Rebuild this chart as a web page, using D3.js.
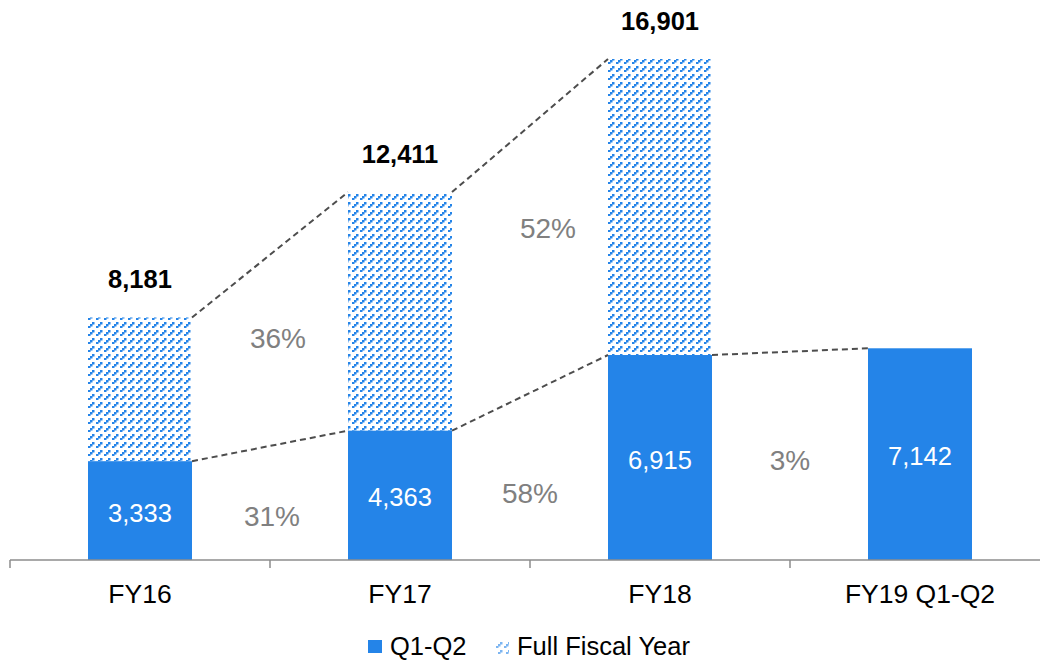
<!DOCTYPE html>
<html>
<head>
<meta charset="utf-8">
<script src="https://cdn.jsdelivr.net/npm/d3@7"></script>
<style>
  body { margin: 0; background: #fff; }
  svg text { font-family: "Liberation Sans", Arial, sans-serif; }
</style>
</head>
<body>
<svg id="chart" width="1040" height="660"></svg>
<script>
const categories = ["FY16", "FY17", "FY18", "FY19 Q1-Q2"];
const halfYear = [3333, 4363, 6915, 7142];          // Q1-Q2
const fullYear = [8181, 12411, 16901, null];        // Full Fiscal Year
const halfGrowth = ["31%", "58%", "3%"];            // Q1-Q2 growth between bars
const fullGrowth = ["36%", "52%"];                  // Full-year growth between bars
const legendLabels = ["Q1-Q2", "Full Fiscal Year"];

const blue = "#2484E8";
const svg = d3.select("#chart");

const defs = svg.append("defs");
const pat = defs.append("pattern")
  .attr("id", "hatch").attr("patternUnits", "userSpaceOnUse")
  .attr("width", 8).attr("height", 8);
[[0, 6], [2, 4], [4, 2]].forEach(([px, py]) => {
  pat.append("rect").attr("x", px).attr("y", py).attr("width", 2.5).attr("height", 2.5).attr("fill", blue);
});

const x = d3.scaleBand().domain(categories).range([10, 1050]).paddingInner(0.6).paddingOuter(0.3);
const y = d3.scaleLinear().domain([0, 19000]).range([560, 560 - 19000 * 501 / 16901]);
const fmt = d3.format(",");

const data = categories.map((c, i) => ({ c, h: halfYear[i], f: fullYear[i] }));

// hatched full year bars
svg.append("g").selectAll("rect").data(data.filter(d => d.f != null)).join("rect")
  .attr("x", d => x(d.c)).attr("width", x.bandwidth())
  .attr("y", d => y(d.f)).attr("height", d => y(d.h) - y(d.f))
  .attr("fill", "url(#hatch)");

// solid half-year bars
svg.append("g").selectAll("rect").data(data).join("rect")
  .attr("x", d => x(d.c)).attr("width", x.bandwidth())
  .attr("y", d => y(d.h)).attr("height", d => y(0) - y(d.h))
  .attr("fill", blue);

// dashed connectors
const lineG = svg.append("g").attr("stroke", "#4d4d4d").attr("stroke-width", 2)
  .attr("stroke-dasharray", "6 4").attr("fill", "none");
for (let i = 0; i < data.length - 1; i++) {
  const a = data[i], b = data[i + 1];
  lineG.append("line")
    .attr("x1", x(a.c) + x.bandwidth()).attr("y1", y(a.h))
    .attr("x2", x(b.c)).attr("y2", y(b.h));
  if (a.f != null && b.f != null) {
    lineG.append("line")
      .attr("x1", x(a.c) + x.bandwidth()).attr("y1", y(a.f))
      .attr("x2", x(b.c)).attr("y2", y(b.f));
  }
}

// axis
const axisG = svg.append("g").attr("stroke", "#8c8c8c").attr("stroke-width", 1.5);
axisG.append("line").attr("x1", 10).attr("x2", 1040).attr("y1", y(0)).attr("y2", y(0));
categories.forEach(c => {
  const tx = x(c) - x.step() * 0.3;
  axisG.append("line").attr("x1", tx).attr("x2", tx).attr("y1", y(0)).attr("y2", y(0) + 8);
});
svg.append("g").selectAll("text").data(categories).join("text")
  .attr("x", d => x(d) + x.bandwidth() / 2).attr("y", 603)
  .attr("text-anchor", "middle").attr("font-size", 26.5).attr("fill", "#000")
  .text(d => d);

// value labels
svg.append("g").selectAll("text").data(data).join("text")
  .attr("x", d => x(d.c) + x.bandwidth() / 2)
  .attr("y", d => (y(d.h) + y(0)) / 2 + 11)
  .attr("text-anchor", "middle").attr("font-size", 25.5).attr("fill", "#fff")
  .text(d => fmt(d.h));
svg.append("g").selectAll("text").data(data.filter(d => d.f != null)).join("text")
  .attr("x", d => x(d.c) + x.bandwidth() / 2)
  .attr("y", d => y(d.f) - 29)
  .attr("text-anchor", "middle").attr("font-size", 25.5).attr("font-weight", "bold").attr("fill", "#000")
  .text(d => fmt(d.f));

// growth annotations
const fullPos = [[278, 338], [548, 228]];
const halfPos = [[272, 516], [530, 493], [790, 460]];
const gG = svg.append("g").attr("font-size", 28).attr("fill", "#808080").attr("text-anchor", "middle");
fullGrowth.forEach((t, i) => gG.append("text").attr("x", fullPos[i][0]).attr("y", fullPos[i][1] + 10).text(t));
halfGrowth.forEach((t, i) => gG.append("text").attr("x", halfPos[i][0]).attr("y", halfPos[i][1] + 10).text(t));

// legend
const lg = svg.append("g");
lg.append("rect").attr("x", 368).attr("y", 640).attr("width", 14).attr("height", 13).attr("fill", blue);
lg.append("text").attr("x", 390).attr("y", 655).attr("font-size", 25.5).attr("fill", "#000").text(legendLabels[0]);
lg.append("rect").attr("x", 496).attr("y", 641).attr("width", 13).attr("height", 13).attr("fill", "url(#hatch)").attr("opacity", 0.6);
lg.append("text").attr("x", 517).attr("y", 655).attr("font-size", 25.5).attr("fill", "#000").text(legendLabels[1]);
</script>
</body>
</html>
